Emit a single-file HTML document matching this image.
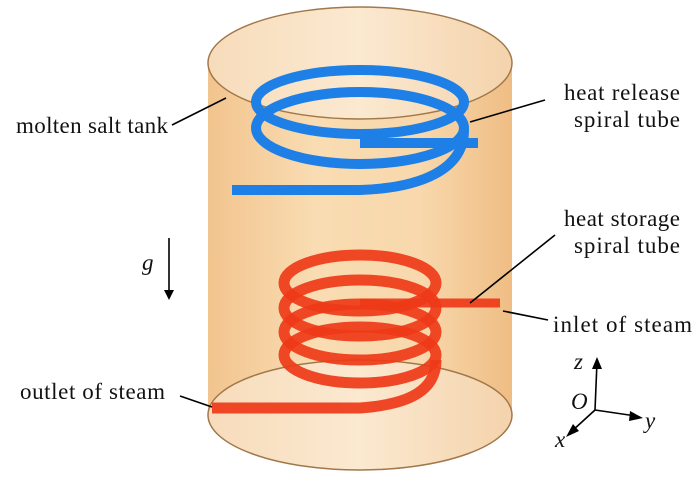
<!DOCTYPE html>
<html><head><meta charset="utf-8"><style>
html,body{margin:0;padding:0;background:#fff;}
svg{display:block}
text{font-family:"Liberation Serif",serif;font-size:23px;fill:#111}
</style></head><body>
<svg width="700" height="484" viewBox="0 0 700 484">
<defs>
<linearGradient id="body" x1="0" x2="1" y1="0" y2="0">
<stop offset="0" stop-color="#f2c48e"/><stop offset="0.35" stop-color="#f9dcb2"/><stop offset="0.7" stop-color="#f8d8ac"/><stop offset="1" stop-color="#efbd84"/>
</linearGradient>
<linearGradient id="cap" x1="0" x2="1"><stop offset="0" stop-color="#f7dcbb"/><stop offset="0.5" stop-color="#fbe9d0"/><stop offset="1" stop-color="#f4d3ac"/></linearGradient>
</defs>
<rect x="208" y="63" width="304" height="352" fill="url(#body)"/>
<ellipse cx="360" cy="415" rx="152" ry="55" fill="url(#cap)" stroke="#a0784a" stroke-width="1.5"/>
<ellipse cx="360" cy="63" rx="152" ry="56" fill="url(#cap)" stroke="#a0784a" stroke-width="1.5"/>
<g fill="none" stroke="#1e7fe6" stroke-width="10" stroke-linecap="butt">
<ellipse cx="360" cy="102" rx="104" ry="32"/>
<ellipse cx="360" cy="128" rx="104" ry="36"/>
<path d="M464 130 C464 170 420 188 360 190 L232 190"/>
<path d="M360 143 L478 143"/>
</g>
<g fill="none" stroke="#ee3a18" stroke-width="11" stroke-opacity="0.92">
<ellipse cx="360" cy="283" rx="76" ry="28"/>
<ellipse cx="360" cy="308" rx="76" ry="28"/>
<ellipse cx="360" cy="332" rx="76" ry="28"/>
<ellipse cx="360" cy="355" rx="76" ry="28"/>
<path d="M436 360 C436 395 400 405 360 408 L212 408" />
<path d="M360 303 L500 303" stroke-width="9"/>
</g>
<g stroke="#000" stroke-width="1.6" fill="none">
<line x1="172" y1="125" x2="226" y2="98"/>
<line x1="545" y1="100" x2="470" y2="122"/>
<line x1="555" y1="235" x2="470" y2="303"/>
<line x1="503" y1="311" x2="548" y2="320"/>
<line x1="180" y1="396" x2="212" y2="407"/>
<line x1="169" y1="238" x2="169" y2="296"/>
<line x1="595" y1="410" x2="597" y2="362"/>
<line x1="595" y1="410" x2="636" y2="416"/>
<line x1="595" y1="410" x2="572" y2="431"/>
</g>
<polygon points="164,290 174,290 169,300" fill="#000"/>
<polygon points="592,369 602,369 597,357" fill="#000"/>
<polygon points="630,411 629,421 643,418" fill="#000"/>
<polygon points="573,424 579,431 566,437" fill="#000"/>
<text x="16" y="133" textLength="152">molten salt tank</text>
<text x="564" y="100" textLength="116">heat release</text>
<text x="574" y="127" textLength="106">spiral tube</text>
<text x="564" y="226" textLength="116">heat storage</text>
<text x="574" y="253" textLength="106">spiral tube</text>
<text x="553" y="332" textLength="139">inlet of steam</text>
<text x="20" y="399" textLength="145">outlet of steam</text>
<text x="142" y="270" font-style="italic">g</text>
<text x="574" y="369" font-style="italic">z</text>
<text x="571" y="409" font-style="italic">O</text>
<text x="645" y="428" font-style="italic">y</text>
<text x="555" y="447" font-style="italic">x</text>
</svg>
</body></html>
